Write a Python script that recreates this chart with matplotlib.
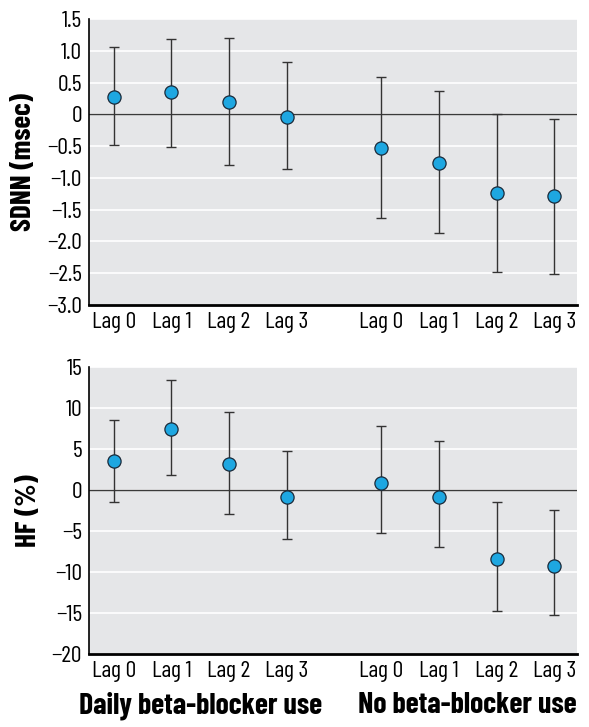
import matplotlib
matplotlib.use("Agg")
from matplotlib import pyplot as plt

# data
lags = ["Lag 0", "Lag 1", "Lag 2", "Lag 3", "Lag 0", "Lag 1", "Lag 2", "Lag 3"]
groups = ["Daily beta-blocker use", "No beta-blocker use"]

sdnn = [0.27, 0.35, 0.20, -0.05, -0.53, -0.76, -1.24, -1.28]
sdnn_lo = [-0.49, -0.51, -0.79, -0.86, -1.63, -1.86, -2.48, -2.51]
sdnn_hi = [1.06, 1.19, 1.20, 0.82, 0.58, 0.36, 0.00, -0.07]

hf = [3.56, 7.4, 3.1, -0.88, 0.9, -0.83, -8.47, -9.23]
hf_lo = [-1.5, 1.77, -2.95, -5.95, -5.3, -6.9, -14.7, -15.3]
hf_hi = [8.5, 13.4, 9.5, 4.7, 7.8, 6.0, -1.5, -2.5]

xpos = [0, 1, 2, 3, 4.64, 5.64, 6.64, 7.64]

# condensed font, like the original
plt.rcParams["font.family"] = ["Barlow Condensed", "DejaVu Sans"]

fig = plt.figure(figsize=(5.89, 7.27), dpi=100)
ax1 = fig.add_axes([0.151, 0.5805, 0.829, 0.3934])
ax2 = fig.add_axes([0.151, 0.1004, 0.829, 0.395])


def panel(ax, y, lo, hi, ylim, yticks, yticklabels, ylabel):
    ax.set_facecolor("#e5e6e8")
    for t in yticks:
        ax.axhline(t, color="white", lw=1.2, zorder=0)
    ax.axhline(0, color="#3a3a3a", lw=1.0, zorder=1)
    err = [[v - l for v, l in zip(y, lo)], [h - v for v, h in zip(y, hi)]]
    ax.errorbar(xpos, y, yerr=err, fmt="none", ecolor="#333333",
                elinewidth=1.0, capsize=3.4, capthick=1.0, zorder=2)
    ax.plot(xpos, y, "o", ms=9.5, mfc="#1ea7e1", mec="#1a2a3a", mew=0.9, zorder=3)
    ax.set_xlim(-0.43, 8.04)
    ax.set_ylim(*ylim)
    ax.set_yticks(yticks)
    ax.set_yticklabels(yticklabels, fontsize=17)
    ax.set_xticks(xpos)
    ax.set_xticklabels(lags, fontsize=17)
    ax.tick_params(length=0, pad=5)
    for s in ["top", "right"]:
        ax.spines[s].set_visible(False)
    ax.spines["left"].set_linewidth(1.2)
    ax.spines["bottom"].set_linewidth(2.0)
    ax.set_ylabel(ylabel, fontsize=21, fontweight="bold", labelpad=8)


panel(ax1, sdnn, sdnn_lo, sdnn_hi, (-3.0, 1.5),
      [1.5, 1.0, 0.5, 0, -0.5, -1.0, -1.5, -2.0, -2.5, -3.0],
      ["1.5", "1.0", "0.5", "0", "\u22120.5", "\u22121.0", "\u22121.5", "\u22122.0", "\u22122.5", "\u22123.0"],
      "SDNN (msec)")
panel(ax2, hf, hf_lo, hf_hi, (-20, 15),
      [15, 10, 5, 0, -5, -10, -15, -20],
      ["15", "10", "5", "0", "\u22125", "\u221210", "\u221215", "\u221220"],
      "HF (%)")

# group labels under the bottom panel
ax2.text(1.5, -0.18, groups[0], transform=ax2.get_xaxis_transform(),
         ha="center", va="center", fontsize=21.5, fontweight="bold")
ax2.text(6.14, -0.18, groups[1], transform=ax2.get_xaxis_transform(),
         ha="center", va="center", fontsize=21.5, fontweight="bold")

fig.savefig("out.png", dpi=100)
